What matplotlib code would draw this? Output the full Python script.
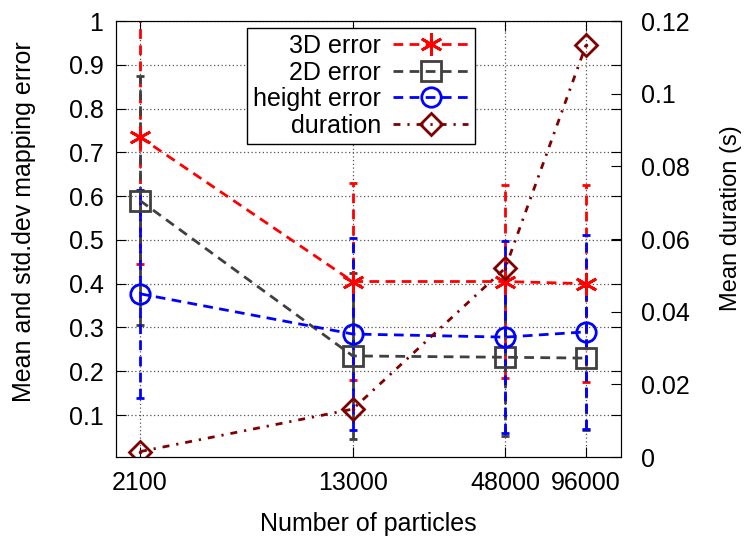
import numpy as np
import matplotlib
matplotlib.use('Agg')
import matplotlib.pyplot as plt
from matplotlib.lines import Line2D
from matplotlib.ticker import NullLocator, FixedLocator, FixedFormatter

plt.rcParams['font.family'] = ['Liberation Sans', 'DejaVu Sans']

particles = [2100, 13000, 48000, 96000]
tick_labels = ['2100', '13000', '48000', '96000']

err3d_mean = [0.735, 0.405, 0.405, 0.400]
err3d_std = [0.29, 0.225, 0.22, 0.225]
err2d_mean = [0.590, 0.235, 0.232, 0.230]
err2d_std = [0.285, 0.19, 0.18, 0.165]
height_mean = [0.377, 0.285, 0.278, 0.290]
height_std = [0.238, 0.22, 0.22, 0.222]
duration = [0.0015, 0.0132, 0.0520, 0.1135]

fs = 18

fig = plt.figure(figsize=(7.45, 5.39), dpi=100)
ax = fig.add_axes([0.1557, 0.152, 0.678, 0.809])
ax2 = ax.twinx()

dash = (0, (3.5, 2.3))
dashdot = (0, (2.5, 2.5, 0.8, 2.5))
series = [
    ('3D error', err3d_mean, err3d_std, '#ff0000', (6, 2, 0), 16),
    ('2D error', err2d_mean, err2d_std, '#404040', 's', 14),
    ('height error', height_mean, height_std, '#0000ff', 'o', 14),
]
handles = []
for name, m, s, c, mk, ms in series:
    cont = ax.errorbar(particles, m, yerr=s, color=c, ls=dash, lw=2,
                       marker=mk, ms=ms, mfc='none', mec=c, mew=2,
                       capsize=3, capthick=2, elinewidth=2)
    for bl in cont[2]:
        bl.set_linestyle(dash)
    handles.append(Line2D([], [], color=c, ls=dash, lw=2, marker=mk,
                          ms=ms, mfc='none', mec=c, mew=2, label=name))

ax2.plot(particles, duration, color='#800000', lw=2, ls=dashdot,
         marker='D', ms=11, mfc='none', mec='#800000', mew=2)
ax2.plot(particles, duration, ls='none', marker='.', ms=3, color='#800000')
handles.append(Line2D([], [], color='#800000', lw=2, ls=dashdot, marker='D',
                      ms=11, mfc='none', mec='#800000', mew=2, label='duration'))

ax.set_xscale('log')
ax.set_xlim(1710, 129500)
ax.xaxis.set_major_locator(FixedLocator(particles))
ax.xaxis.set_major_formatter(FixedFormatter(tick_labels))
ax.xaxis.set_minor_locator(NullLocator())
ax.set_ylim(0.004, 1.0)
ax.set_yticks([0.1, 0.2, 0.3, 0.4, 0.5, 0.6, 0.7, 0.8, 0.9, 1.0])
ax.set_yticklabels(['0.1', '0.2', '0.3', '0.4', '0.5', '0.6', '0.7', '0.8', '0.9', '1'])
ax2.set_ylim(0, 0.12)
ax2.set_yticks([0, 0.02, 0.04, 0.06, 0.08, 0.1, 0.12])
ax2.set_yticklabels(['0', '0.02', '0.04', '0.06', '0.08', '0.1', '0.12'])

ax.grid(True, ls=(0, (1, 2)), color='#555555', lw=0.9)
ax.tick_params(direction='in', top=True, right=True, labelsize=fs, length=7)
ax.tick_params(axis='x', pad=10)
ax.tick_params(axis='y', pad=9)
ax2.tick_params(direction='in', labelsize=fs, length=7, pad=14)

ax.set_xlabel('Number of particles', fontsize=fs)
ax.set_ylabel('Mean and std.dev mapping error', fontsize=fs)
ax2.set_ylabel('Mean duration (s)', fontsize=17)
ax.xaxis.set_label_coords(0.5, -0.126)
ax.yaxis.set_label_coords(-0.158, 0.539)
ax2.yaxis.set_label_coords(1.196, 0.548)

leg = ax2.legend(handles=handles, loc='upper left', bbox_to_anchor=(0.259, 0.984),
                 markerfirst=False, fontsize=fs, frameon=True, fancybox=False,
                 edgecolor='black', framealpha=1, handlelength=3.0,
                 borderpad=0.25, labelspacing=0.1, handletextpad=0.5,
                 borderaxespad=0)
leg.get_frame().set_linewidth(1)

fig.savefig('out.png', dpi=100)
